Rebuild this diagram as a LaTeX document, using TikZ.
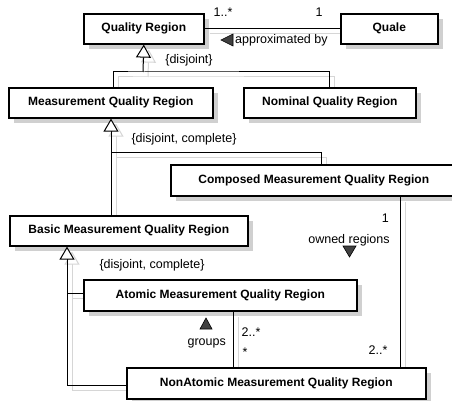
\documentclass[tikz,border=0pt]{standalone}
\usepackage{fontspec}
\setmainfont{Liberation Sans}
\usetikzlibrary{arrows.meta,shadows}
\pgfdeclarelayer{bg}
\pgfsetlayers{bg,main}
\definecolor{shd}{HTML}{D0D0D0}
\definecolor{lshd}{HTML}{D6D6D6}
\begin{document}
\begin{tikzpicture}[x=1pt,y=-1pt,
  cls/.style={draw=black, line width=1.6pt, fill=white, anchor=north west, inner sep=0pt,
    font=\fontsize{12}{14}\selectfont\bfseries, align=center,
    drop shadow={shadow xshift=5pt, shadow yshift=-5pt, fill=shd, draw=none, opacity=1}},
  lbl/.style={inner sep=0pt, font=\fontsize{12.5}{14}\selectfont},
  conn/.style={line width=1pt, draw=black},
  gen/.style={conn, -{Triangle[fill=white, length=13pt, width=15pt]}},
  shline/.style={line width=1pt, draw=lshd, transform canvas={xshift=5pt, yshift=-5pt}},
  shgen/.style={shline, -{Triangle[fill=white, length=13pt, width=15pt]}},
  dirtri/.style={fill=black!75, draw=black, line width=0.6pt, line join=miter},
]
\useasboundingbox (0,0) rectangle (452,401);
\begin{pgfonlayer}{bg}
  \fill[white] (0,0) rectangle (452,401);
\end{pgfonlayer}
\clip (0,0) rectangle (452,401);

% classes
\node[cls, minimum width=120pt, minimum height=30pt] (qr) at (83,13) {Quality Region};
\node[cls, minimum width=97pt, minimum height=30pt] (quale) at (340,13) {Quale};
\node[cls, minimum width=204pt, minimum height=30pt] (mqr) at (8,87) {Measurement Quality Region};
\node[cls, minimum width=172pt, minimum height=30pt] (nqr) at (243,87) {Nominal Quality Region};
\node[cls, minimum width=286pt, minimum height=31pt] (cmqr) at (170,164) {Composed Measurement Quality Region};
\node[cls, minimum width=238pt, minimum height=30pt] (bmqr) at (9,215) {Basic Measurement Quality Region};
\node[cls, minimum width=273pt, minimum height=31pt] (amqr) at (83,279) {Atomic Measurement Quality Region};
\node[cls, minimum width=299pt, minimum height=31pt] (namqr) at (126,367) {NonAtomic Measurement Quality Region};

\coordinate (j1) at (143,72);
\coordinate (j2) at (111,152);

% connector shadows
\begin{pgfonlayer}{bg}
  \draw[shline] (qr.east) -- (quale.west);
  \draw[shline] (mqr.north -| 113,0) |- (j1) -| (nqr.north);
  \draw[shgen] (j1) -- (qr.south);
  \draw[shgen] (bmqr.north -| 111,0) -- (mqr.south -| 111,0);
  \draw[shline] (j2) -| (cmqr.north -| 321,0);
  \draw[shgen] (namqr.west |- 0,385) -| (bmqr.south -| 67,0);
  \draw[shline] (amqr.west |- 0,293) -- (67,293);
  \draw[shline] (cmqr.south -| 400,0) -- (namqr.north -| 400,0);
  \draw[shline] (amqr.south -| 233,0) -- (namqr.north -| 233,0);
\end{pgfonlayer}

% connectors
\draw[conn] (qr.east) -- (quale.west);
\draw[conn] (mqr.north -| 113,0) |- (j1) -| (nqr.north);
\draw[gen] (j1) -- (qr.south);
\draw[gen] (bmqr.north -| 111,0) -- (mqr.south -| 111,0);
\draw[conn] (j2) -| (cmqr.north -| 321,0);
\draw[gen] (namqr.west |- 0,385) -| (bmqr.south -| 67,0);
\draw[conn] (amqr.west |- 0,293) -- (67,293);
\draw[conn] (cmqr.south -| 400,0) -- (namqr.north -| 400,0);
\draw[conn] (amqr.south -| 233,0) -- (namqr.north -| 233,0);

% labels
\node[lbl] (m1) at (223,12) {1..*};
\node[lbl] (m2) at (319,12) {1};
\node[lbl, anchor=west] (assoc) at (235,40) {approximated by};
\draw[dirtri] (221,40) -- (233,34) -- (233,46) -- cycle;
\node[lbl] (d1) at (189,60) {\{disjoint\}};
\node[lbl] (d2) at (184,139) {\{disjoint, complete\}};
\node[lbl] (d3) at (152,265) {\{disjoint, complete\}};
\node[lbl, anchor=east] (m3) at (389,218) {1};
\node[lbl] (own) at (349,240) {owned regions};
\draw[dirtri] (343,246) -- (356,246) -- (349.5,257) -- cycle;
\node[lbl] (m4) at (251,332) {2..*};
\node[lbl] (m5) at (245,352) {*};
\node[lbl] (m6) at (378,350) {2..*};
\node[lbl, anchor=east] (grp) at (226,343) {groups};
\draw[dirtri] (206,318) -- (212,329) -- (200,329) -- cycle;
\end{tikzpicture}
\end{document}
